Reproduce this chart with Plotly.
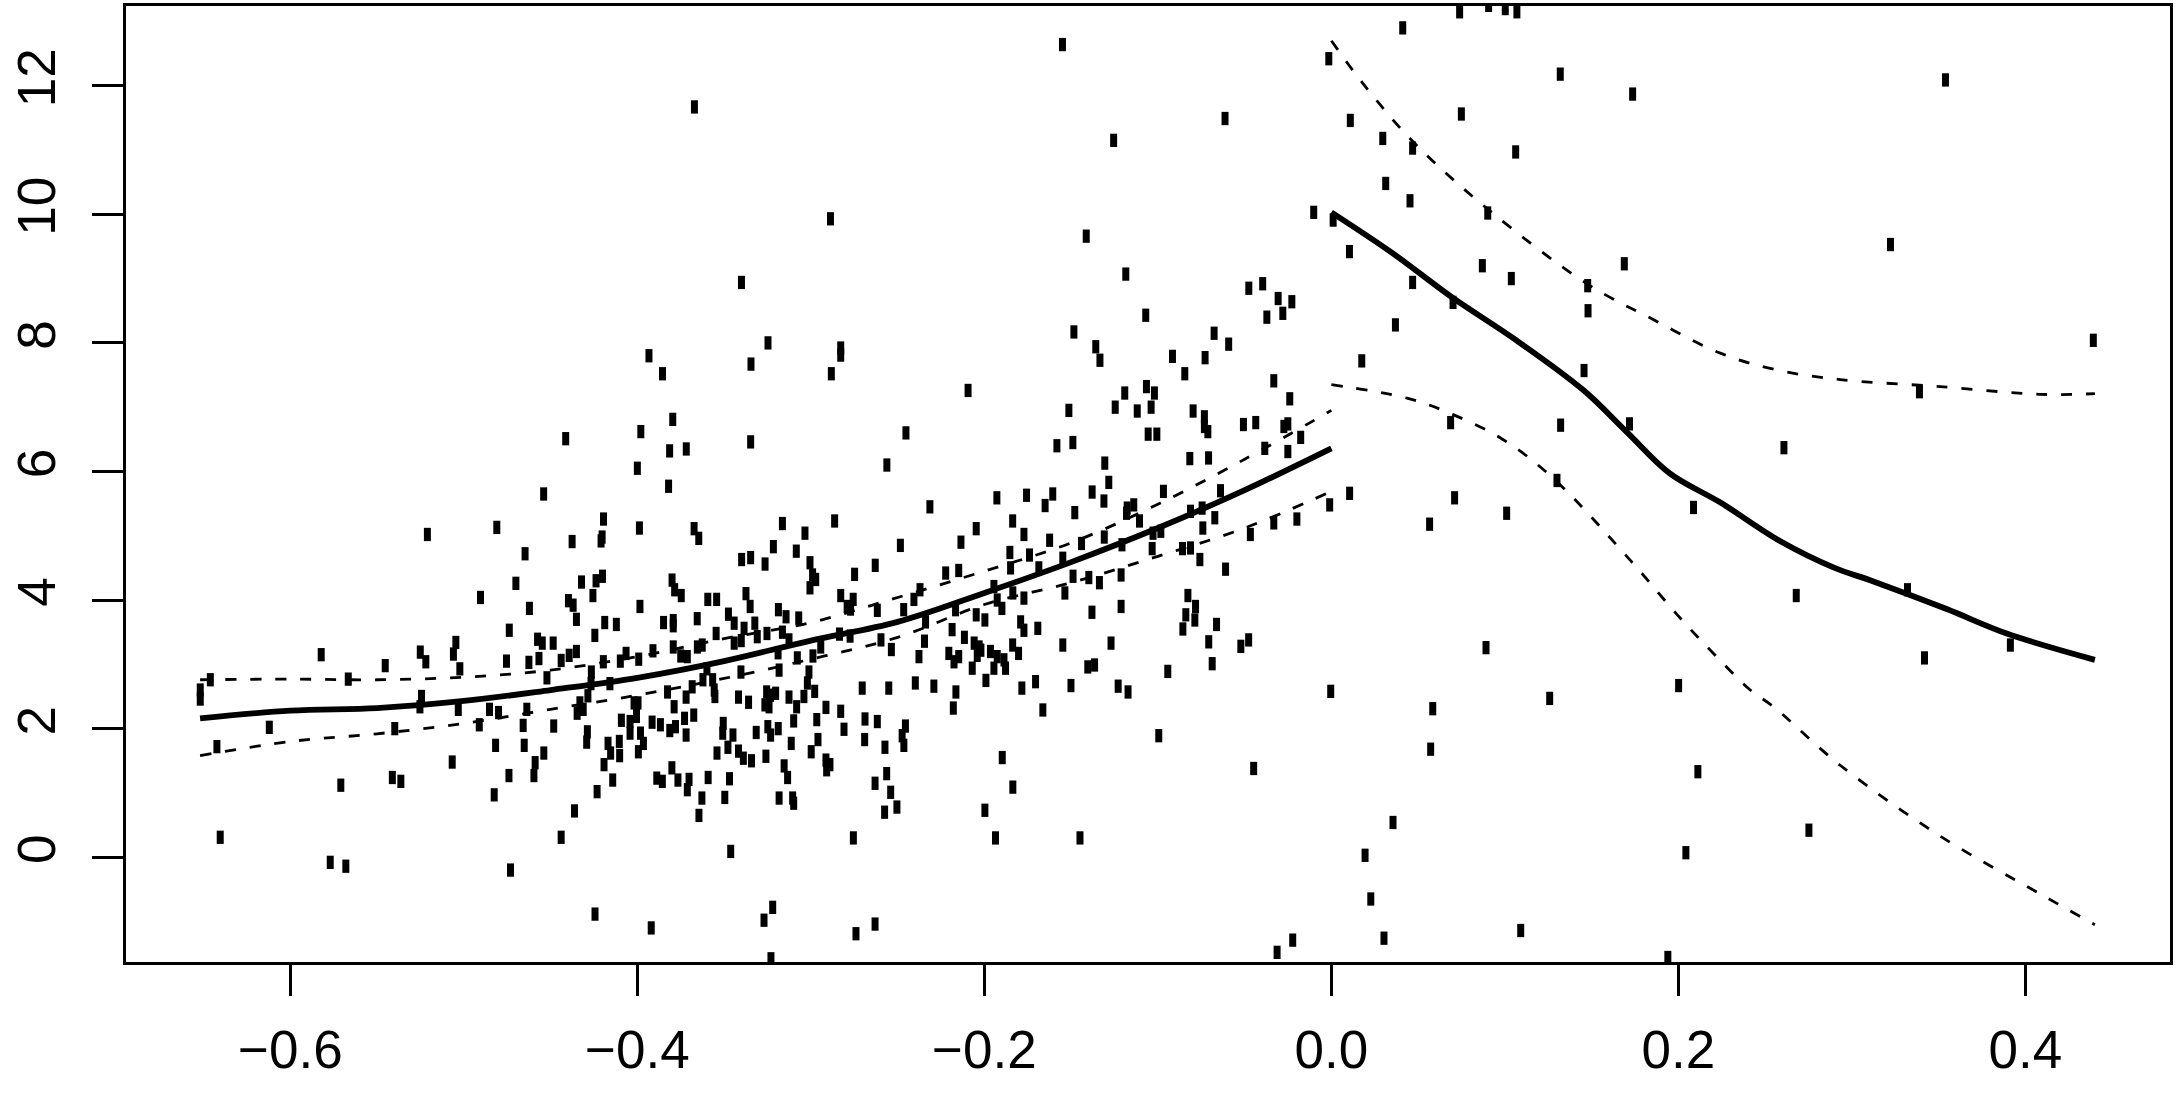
import plotly.graph_objects as go

# observations left of the cutoff (running variable, outcome)
left_obs = [
    (-0.400, 6.05), (-0.382, 5.77), (-0.454, 5.65), (-0.481, 5.13), (-0.521, 5.02), (-0.4195, 5.26),
    (-0.4203, 4.98), (-0.4209, 4.92), (-0.3988, 5.12), (-0.4376, 4.91), (-0.3673, 5.11), (-0.3646, 4.96),
    (-0.3164, 5.19), (-0.3216, 4.83), (-0.3084, 4.76), (-0.3399, 4.63), (-0.3347, 4.66), (-0.3264, 4.56),
    (-0.4647, 4.72), (-0.470, 4.26), (-0.4904, 4.04), (-0.4322, 4.28), (-0.4238, 4.30), (-0.4201, 4.37),
    (-0.4256, 4.07), (-0.4397, 3.99), (-0.437, 3.92), (-0.4622, 3.87), (-0.4738, 3.53), (-0.4351, 3.70),
    (-0.4245, 3.45), (-0.4188, 3.65), (-0.4121, 3.62), (-0.3985, 3.90), (-0.380, 4.31), (-0.3785, 4.16),
    (-0.3747, 4.07), (-0.3594, 4.01), (-0.3543, 4.01), (-0.3655, 3.71), (-0.3849, 3.65), (-0.3793, 3.68),
    (-0.3793, 3.60), (-0.3374, 4.10), (-0.335, 3.90), (-0.3187, 3.85), (-0.3143, 3.74), (-0.307, 3.72),
    (-0.3475, 3.78), (-0.3442, 3.64), (-0.3385, 3.56), (-0.3323, 3.64), (-0.3546, 3.48), (-0.3401, 3.37),
    (-0.3442, 3.33), (-0.3309, 3.43), (-0.3253, 3.48), (-0.3164, 3.50), (-0.3126, 3.38), (-0.3078, 3.10),
    (-0.5251, 3.19), (-0.5219, 3.04), (-0.5046, 3.34), (-0.506, 3.16), (-0.5023, 2.93), (-0.4754, 3.05),
    (-0.4625, 3.03), (-0.4575, 3.39), (-0.4548, 3.33), (-0.4567, 3.09), (-0.4485, 3.33), (-0.4521, 2.79),
    (-0.4439, 3.06), (-0.4393, 3.14), (-0.4351, 3.20), (-0.4265, 2.88), (-0.4196, 3.04), (-0.4098, 3.05),
    (-0.4065, 3.17), (-0.3992, 3.08), (-0.391, 3.21), (-0.3793, 3.27), (-0.375, 3.13), (-0.3712, 3.12),
    (-0.3654, 3.27), (-0.3626, 3.30), (-0.3599, 2.93), (-0.3403, 2.88), (-0.3189, 3.18), (-0.3183, 2.91),
    (-0.5244, 2.50), (-0.5253, 2.34), (-0.5032, 2.30), (-0.4911, 2.06), (-0.4852, 2.30), (-0.48, 2.25),
    (-0.4637, 2.30), (-0.4658, 2.05), (-0.4482, 2.04), (-0.4331, 2.40), (-0.4347, 2.24), (-0.4312, 2.30),
    (-0.4285, 2.51), (-0.4267, 2.70), (-0.4158, 2.70), (-0.4288, 1.95), (-0.4292, 1.79), (-0.4817, 1.74),
    (-0.4652, 1.74), (-0.4539, 1.62), (-0.4589, 1.47), (-0.4596, 1.27), (-0.474, 1.27), (-0.5067, 1.48),
    (-0.5363, 1.18), (-0.4825, 0.97), (-0.4362, 0.72), (-0.4439, 0.31), (-0.4731, -0.20), (-0.4232, 1.02),
    (-0.4192, 1.44), (-0.4142, 1.20), (-0.4169, 1.77), (-0.4154, 1.62), (-0.4102, 1.58), (-0.4104, 1.80),
    (-0.4092, 2.13), (-0.4042, 1.93), (-0.4019, 2.40), (-0.4005, 2.24), (-0.3996, 2.40), (-0.4005, 2.19),
    (-0.3982, 1.93), (-0.3965, 1.77), (-0.3994, 1.64), (-0.3915, 2.10), (-0.3867, 2.06), (-0.3826, 2.57),
    (-0.3788, 2.34), (-0.3813, 1.97), (-0.3780, 2.03), (-0.3728, 2.16), (-0.3719, 2.49), (-0.3675, 2.21),
    (-0.3719, 1.90), (-0.3684, 2.65), (-0.3622, 2.76), (-0.3566, 2.76), (-0.3557, 2.60), (-0.3553, 2.50),
    (-0.3505, 2.08), (-0.3508, 1.93), (-0.3449, 1.90), (-0.3417, 2.49), (-0.3359, 2.41), (-0.3255, 2.57),
    (-0.3232, 2.52), (-0.3203, 2.55), (-0.3265, 2.37), (-0.3241, 2.34), (-0.3126, 2.49), (-0.3082, 2.34),
    (-0.3315, 1.94), (-0.3248, 2.03), (-0.3232, 1.90), (-0.3188, 2.00), (-0.3099, 2.12), (-0.3113, 1.77),
    (-0.3541, 1.62), (-0.3478, 1.71), (-0.3417, 1.65), (-0.3389, 1.54), (-0.3342, 1.50), (-0.3259, 1.57),
    (-0.3154, 1.42), (-0.3134, 1.24), (-0.3183, 0.92), (-0.3105, 0.92), (-0.3099, 0.84), (-0.3801, 1.39),
    (-0.3888, 1.23), (-0.3856, 1.18), (-0.3766, 1.20), (-0.3702, 1.21), (-0.3712, 1.05), (-0.3592, 1.24),
    (-0.3469, 1.22), (-0.3628, 0.92), (-0.3496, 0.93), (-0.3645, 0.65), (-0.3462, 0.09), (-0.4042, 2.11),
    # middle block
    (-0.2562, 6.10), (-0.2863, 5.23), (-0.3034, 5.04), (-0.2314, 5.45), (-0.1928, 5.59), (-0.2047, 5.11),
    (-0.2135, 4.90), (-0.2484, 4.85), (-0.3005, 4.58), (-0.299, 4.39), (-0.2972, 4.32), (-0.3005, 4.19),
    (-0.2629, 4.54), (-0.2748, 4.40), (-0.2828, 4.07), (-0.2756, 4.01), (-0.2791, 3.90), (-0.2771, 3.86),
    (-0.2223, 4.42), (-0.2148, 4.46), (-0.1945, 4.21), (-0.1926, 4.00), (-0.2371, 4.16), (-0.2406, 4.01),
    (-0.2465, 3.85), (-0.2617, 3.84), (-0.2339, 3.66), (-0.2166, 3.85), (-0.2047, 3.77), (-0.1997, 3.69),
    (-0.2186, 3.54), (-0.2115, 3.42), (-0.2345, 3.36), (-0.2596, 3.38), (-0.2536, 3.23), (-0.2774, 3.44),
    (-0.2835, 3.47), (-0.2943, 3.27), (-0.2988, 3.13), (-0.2377, 3.12), (-0.2205, 3.17), (-0.2148, 3.12),
    (-0.2175, 3.04), (-0.2059, 3.33), (-0.203, 3.27), (-0.202, 3.22), (-0.2041, 3.14), (-0.1965, 3.20),
    (-0.1926, 3.12), (-0.1887, 3.07), (-0.1803, 3.17), (-0.207, 2.94), (-0.1945, 2.94), (-0.1878, 2.94),
    (-0.1991, 2.75), (-0.1404, 2.96), (-0.1365, 2.99), (-0.0943, 2.89), (-0.3011, 2.88), (-0.302, 2.71),
    (-0.304, 2.50), (-0.2978, 2.58), (-0.2704, 2.63), (-0.2551, 2.63), (-0.2398, 2.71), (-0.2291, 2.66),
    (-0.2164, 2.57), (-0.2179, 2.32), (-0.1784, 2.63), (-0.1705, 2.73), (-0.1501, 2.67), (-0.1229, 2.66),
    (-0.1172, 2.57), (-0.1663, 2.29), (-0.2913, 2.33), (-0.2828, 2.27), (-0.2966, 2.14), (-0.2809, 1.99),
    (-0.2688, 2.15), (-0.2617, 2.11), (-0.2455, 2.04), (-0.2474, 1.89), (-0.2464, 1.74), (-0.269, 1.83),
    (-0.2573, 1.71), (-0.2959, 1.83), (-0.2998, 1.64), (-0.2913, 1.51), (-0.2909, 1.36), (-0.2890, 1.44),
    (-0.0995, 1.89), (-0.1897, 1.55), (-0.1836, 1.09), (-0.2563, 1.30), (-0.263, 1.15), (-0.2540, 1.01),
    (-0.2504, 0.78), (-0.2575, 0.70), (-0.1997, 0.73), (-0.2755, 0.30), (-0.1936, 0.30), (-0.1449, 0.30),
    # near the cutoff
    (-0.0102, 10.03), (-0.1413, 9.66), (-0.1185, 9.07), (-0.0476, 8.85), (-0.0396, 8.92), (-0.0307, 8.69),
    (-0.0228, 8.64), (-0.0372, 8.40), (-0.0280, 8.46), (-0.107, 8.43), (-0.1484, 8.17), (-0.1358, 7.94),
    (-0.1334, 7.73), (-0.0916, 7.79), (-0.0845, 7.52), (-0.0728, 7.77), (-0.0676, 8.15), (-0.0592, 7.98),
    (-0.0332, 7.41), (-0.024, 7.13), (-0.1513, 6.95), (-0.1191, 7.22), (-0.1246, 7.00), (-0.1119, 6.94),
    (-0.1066, 7.32), (-0.1020, 7.22), (-0.1039, 7.00), (-0.1056, 6.58), (-0.1006, 6.58), (-0.0797, 6.94),
    (-0.0732, 6.85), (-0.0732, 6.70), (-0.0712, 6.62), (-0.0507, 6.73), (-0.0436, 6.76), (-0.0274, 6.70),
    (-0.0251, 6.74), (-0.0177, 6.53), (-0.0251, 6.31), (-0.0384, 6.36), (-0.1582, 6.40), (-0.1490, 6.45),
    (-0.0816, 6.20), (-0.0708, 6.21), (-0.1306, 6.13), (-0.1283, 5.83), (-0.0639, 5.70), (-0.0968, 5.69),
    (-0.1379, 5.68), (-0.1311, 5.54), (-0.1757, 5.63), (-0.1606, 5.65), (-0.165, 5.47), (-0.1479, 5.36),
    (-0.1837, 5.23), (-0.1772, 5.02), (-0.1177, 5.43), (-0.1139, 5.48), (-0.1181, 5.35), (-0.1106, 5.23),
    (-0.0812, 5.38), (-0.0745, 5.43), (-0.0672, 5.28), (-0.0741, 5.12), (-0.001, 5.48), (-0.0199, 5.26),
    (-0.0332, 5.20), (-0.0467, 5.02), (-0.1624, 4.93), (-0.1440, 4.88), (-0.1309, 4.98), (-0.1207, 4.86),
    (-0.1028, 5.04), (-0.0983, 5.07), (-0.1033, 4.80), (-0.0858, 4.80), (-0.0812, 4.81), (-0.0758, 4.63),
    (-0.061, 4.48), (-0.1853, 4.74), (-0.1849, 4.50), (-0.1740, 4.70), (-0.1686, 4.50), (-0.1548, 4.65),
    (-0.1489, 4.37), (-0.1398, 4.35), (-0.1337, 4.27), (-0.1212, 4.39), (-0.1536, 4.11), (-0.1836, 4.11),
    (-0.1772, 4.03), (-0.1899, 3.87), (-0.1212, 3.90), (-0.138, 3.81), (-0.0827, 4.07), (-0.0783, 3.90),
    (-0.0839, 3.77), (-0.0787, 3.69), (-0.0856, 3.55), (-0.0662, 3.62), (-0.1791, 3.66), (-0.1772, 3.53),
    (-0.1692, 3.56), (-0.1837, 3.30), (-0.1548, 3.30), (-0.127, 3.33), (-0.0707, 3.35), (-0.0477, 3.38),
    (-0.0522, 3.28), (-0.0687, 3.01), (-0.0004, 2.58), (-0.0448, 1.38), (-0.0223, -1.29), (-0.0313, -1.48),
    # far left
    (-0.5822, 3.15), (-0.5453, 2.98), (-0.6461, 2.76), (-0.6519, 2.60), (-0.6519, 2.46), (-0.5666, 2.77),
    (-0.6121, 2.02), (-0.6423, 1.72), (-0.5398, 2.00), (-0.5709, 1.12), (-0.5412, 1.24), (-0.6404, 0.31),
    (-0.577, -0.08), (-0.568, -0.14),
    # low values
    (-0.4244, -0.885), (-0.392, -1.10), (-0.322, -0.78), (-0.327, -0.98), (-0.323, -1.58),
    (-0.274, -1.19), (-0.263, -1.04),
    # high values
    (-0.3671, 11.67), (-0.2887, 9.93), (-0.340, 8.94), (-0.3247, 8.00), (-0.3933, 7.80), (-0.3855, 7.52),
    (-0.3345, 7.67), (-0.2828, 7.92), (-0.2828, 7.81), (-0.2882, 7.52), (-0.2094, 7.26), (-0.3796, 6.81),
    (-0.398, 6.62), (-0.4413, 6.51), (-0.3814, 6.32), (-0.3718, 6.35), (-0.3347, 6.46), (-0.2452, 6.60),
    (-0.155, 12.64), (-0.1255, 11.15), (-0.0613, 11.49), (-0.0015, 12.42),
]

# observations right of the cutoff
right_obs = [
    (0.0739, 13.15), (0.0906, 13.25), (0.1002, 13.2), (0.1069, 13.15), (0.0411, 12.90), (0.1319, 12.18),
    (0.1736, 11.87), (0.0109, 11.46), (0.0749, 11.56), (0.0296, 11.18), (0.0468, 11.03), (0.1062, 10.97),
    (0.0313, 10.48), (0.0453, 10.21), (0.0901, 10.02), (0.001, 9.91), (0.0104, 9.42), (0.0870, 9.20),
    (0.1037, 9.00), (0.0468, 8.94), (0.0701, 8.63), (0.1688, 9.23), (0.1477, 8.89), (0.1479, 8.50),
    (0.0369, 8.28), (0.0175, 7.72), (0.1456, 7.57), (0.0687, 6.76), (0.1321, 6.72), (0.1718, 6.74),
    (0.130, 5.86), (0.0105, 5.66), (0.0710, 5.59), (0.0566, 5.18), (0.1010, 5.35), (0.2087, 5.44),
    (0.0891, 3.26), (0.0584, 2.31), (0.1258, 2.47), (0.2001, 2.67), (0.0572, 1.68), (0.2112, 1.33),
    (0.0355, 0.54), (0.0194, 0.03), (0.2043, 0.07), (0.0227, -0.65), (0.0303, -1.26), (0.1091, -1.14),
    (0.1939, -1.56), (0.3539, 12.09), (0.3222, 9.53), (0.4391, 8.04), (0.3389, 7.24), (0.2608, 6.37),
    (0.2679, 4.07), (0.332, 4.16), (0.3418, 3.10), (0.3913, 3.30), (0.2752, 0.42),
]

# fitted curve and confidence band, left side
fit_x_left = [-0.652, -0.60, -0.55, -0.50, -0.45, -0.40, -0.35, -0.30, -0.25, -0.20, -0.15, -0.10, -0.05, 0.0]
fit_left = [2.16, 2.28, 2.32, 2.43, 2.60, 2.79, 3.05, 3.37, 3.66, 4.11, 4.59, 5.12, 5.71, 6.36]
upper_left = [2.76, 2.77, 2.76, 2.80, 2.91, 3.12, 3.40, 3.65, 4.04, 4.45, 4.89, 5.49, 6.19, 6.95]
lower_left = [1.58, 1.80, 1.92, 2.08, 2.30, 2.52, 2.78, 3.08, 3.42, 3.93, 4.27, 4.68, 5.12, 5.69]

# fitted curve and confidence band, right side
fit_x_right = [0.0, 0.035, 0.07, 0.105, 0.145, 0.17, 0.195, 0.224, 0.259, 0.29, 0.3124, 0.3546, 0.3892, 0.44]
fit_right = [10.03, 9.40, 8.70, 8.07, 7.27, 6.62, 5.97, 5.52, 4.91, 4.50, 4.29, 3.86, 3.48, 3.07]
upper_x_right = [0.0, 0.0186, 0.0474, 0.0897, 0.1473, 0.1857, 0.2241, 0.2566, 0.2932, 0.3508, 0.4084, 0.44]
upper_right = [12.70, 12.02, 11.12, 10.09, 8.92, 8.36, 7.84, 7.58, 7.43, 7.32, 7.20, 7.21]
lower_x_right = [0.0, 0.0436, 0.0705, 0.0993, 0.128, 0.1722, 0.201, 0.2202, 0.2414, 0.2548, 0.2932, 0.3508,
                 0.4084, 0.44]
lower_right = [7.35, 7.14, 6.88, 6.49, 5.89, 4.62, 3.72, 3.17, 2.60, 2.34, 1.43, 0.33, -0.57, -1.05]

x_ticks = [-0.6, -0.4, -0.2, 0.0, 0.2, 0.4]
x_tick_labels = ["\u22120.6", "\u22120.4", "\u22120.2", "0.0", "0.2", "0.4"]
y_ticks = [0, 2, 4, 6, 8, 10, 12]

obs = left_obs + right_obs
pts_x = [p[0] for p in obs]
pts_y = [p[1] for p in obs]

fig = go.Figure()

# small vertical bars like R's pch="." points
fig.add_trace(go.Scatter(
    x=pts_x, y=pts_y, mode="markers",
    marker=dict(symbol="line-ns-open", size=9.5, color="black",
                line=dict(width=7, color="black")),
    showlegend=False, hoverinfo="skip"
))

solid = dict(color="black", width=5.8)
dashed = dict(color="black", width=2.8, dash="11px,14px")

fig.add_trace(go.Scatter(x=fit_x_left, y=fit_left, mode="lines", line=solid, line_shape="spline", showlegend=False))
fig.add_trace(go.Scatter(x=fit_x_left, y=upper_left, mode="lines", line=dashed, line_shape="spline", showlegend=False))
fig.add_trace(go.Scatter(x=fit_x_left, y=lower_left, mode="lines", line=dashed, line_shape="spline", showlegend=False))
fig.add_trace(go.Scatter(x=fit_x_right, y=fit_right, mode="lines", line=solid, line_shape="spline", showlegend=False))
fig.add_trace(go.Scatter(x=upper_x_right, y=upper_right, mode="lines", line=dashed, line_shape="spline",
                         showlegend=False))
fig.add_trace(go.Scatter(x=lower_x_right, y=lower_right, mode="lines", line=dashed, line_shape="spline",
                         showlegend=False))

axis_common = dict(
    showgrid=False, zeroline=False, automargin=False,
    showline=True, mirror=True, linecolor="black", linewidth=3,
    ticks="outside", ticklen=31, tickwidth=3, tickcolor="black",
    tickfont=dict(family="Liberation Sans, Arial, sans-serif", size=53, color="black"),
)

fig.update_layout(
    width=2182, height=1108,
    margin=dict(l=126, r=12, t=6, b=146),
    plot_bgcolor="white", paper_bgcolor="white",
    xaxis=dict(range=[-0.6947, 0.4833], tickvals=x_ticks, ticktext=x_tick_labels,
               ticklabelstandoff=8, **axis_common),
    yaxis=dict(range=[-1.63, 13.24], tickvals=y_ticks, tickangle=-90,
               ticklabelstandoff=16, **axis_common),
)

fig.write_html("out.html", config={"displayModeBar": False},
               post_script="document.body.style.margin='0';document.body.style.overflow='hidden';")
